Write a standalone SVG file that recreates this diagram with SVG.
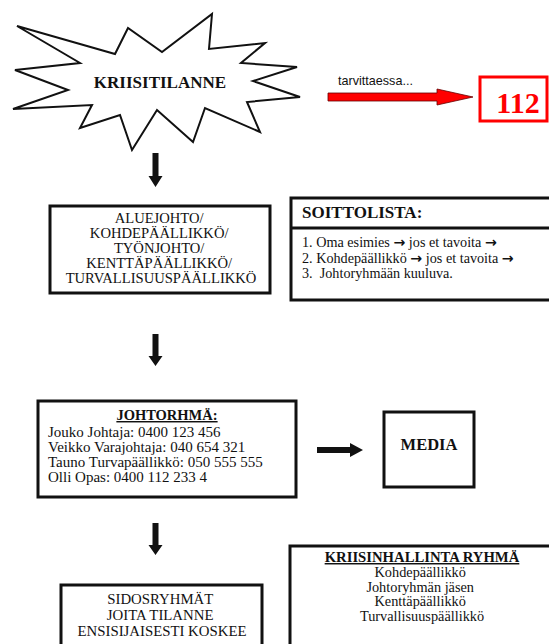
<svg xmlns="http://www.w3.org/2000/svg" width="549" height="644" viewBox="0 0 549 644">
<style>
.t{font-family:"Liberation Serif","Times New Roman",serif;fill:#111;}
.b{font-weight:bold;}
.ar{font-family:"DejaVu Sans",sans-serif;font-weight:bold;}
.box{fill:#fff;stroke:#111;stroke-width:3;}
.arr{fill:#111;}
</style>
<rect width="549" height="644" fill="#fff"/>
<g id="kriisitilanne">
<polygon points="17,26 115,54 128,28 162,52 212,14 209,49 265,43 241,63 297,67 253,81 300,97 247,102 260,132 205,108 193,142 157,110 132,150 120,115 80,128 92,105 13,109 68,90 15,70 80,63" fill="#fff" stroke="#111" stroke-width="2" stroke-linejoin="miter"/>
<text class="t b" x="160" y="88" font-size="17" text-anchor="middle">KRIISITILANNE</text>
</g>
<g id="hatanumero">
<rect x="480" y="77" width="67" height="44" fill="#fff" stroke="#f00" stroke-width="3"/>
<text x="518" y="113" font-family="Liberation Serif, serif" font-weight="bold" font-size="30" fill="#f00" text-anchor="middle">112</text>
</g>
<g id="johto">
<rect class="box" x="50" y="206" width="220" height="87"/>
<text class="t" font-size="14.6" text-anchor="middle">
<tspan x="161" y="223">ALUEJOHTO/</tspan>
<tspan x="161" y="238">KOHDEPÄÄLLIKKÖ/</tspan>
<tspan x="161" y="253">TYÖNJOHTO/</tspan>
<tspan x="161" y="268">KENTTÄPÄÄLLIKKÖ/</tspan>
<tspan x="161" y="283">TURVALLISUUSPÄÄLLIKKÖ</tspan>
</text>
</g>
<g id="soittolista">
<rect class="box" x="291" y="198" width="262" height="102"/>
<line x1="291" y1="228" x2="553" y2="228" stroke="#111" stroke-width="3"/>
<text class="t b" x="302" y="218" font-size="17">SOITTOLISTA:</text>
<text class="t" font-size="14.2">
<tspan x="302" y="247">1. Oma esimies <tspan class="ar">→</tspan> jos et tavoita <tspan class="ar">→</tspan></tspan>
<tspan x="302" y="263">2. Kohdepäällikkö <tspan class="ar">→</tspan> jos et tavoita <tspan class="ar">→</tspan></tspan>
<tspan x="302" y="278">3.&#160; Johtoryhmään kuuluva.</tspan>
</text>
</g>
<g id="johtoryhma">
<rect class="box" x="38" y="401" width="258" height="96"/>
<text class="t b" x="167" y="420" font-size="14.5" text-anchor="middle" text-decoration="underline">JOHTORHMÄ:</text>
<text class="t" font-size="15">
<tspan x="48" y="437">Jouko Johtaja: 0400 123 456</tspan>
<tspan x="48" y="452">Veikko Varajohtaja: 040 654 321</tspan>
<tspan x="48" y="467">Tauno Turvapäällikkö: 050 555 555</tspan>
<tspan x="48" y="482">Olli Opas: 0400 112 233 4</tspan>
</text>
</g>
<g id="media">
<rect class="box" x="384" y="412" width="90" height="75"/>
<text class="t b" x="429" y="450" font-size="16.5" text-anchor="middle">MEDIA</text>
</g>
<g id="sidosryhmat">
<rect class="box" x="61" y="585" width="201" height="70"/>
<text class="t" font-size="14.8" text-anchor="middle">
<tspan x="162" y="604">SIDOSRYHMÄT</tspan>
<tspan x="162" y="620">JOITA TILANNE</tspan>
<tspan x="162" y="636">ENSISIJAISESTI KOSKEE</tspan>
</text>
</g>
<g id="kriisinhallinta">
<rect class="box" x="290" y="546" width="263" height="110"/>
<text class="t b" x="422" y="562" font-size="14.7" text-anchor="middle" text-decoration="underline">KRIISINHALLINTA RYHMÄ</text>
<text class="t" font-size="14.3" text-anchor="middle">
<tspan x="422" y="577">Kohdepäällikkö</tspan>
<tspan x="422" y="591.5">Johtoryhmän jäsen</tspan>
<tspan x="422" y="606">Kenttäpäällikkö</tspan>
<tspan x="422" y="620.5">Turvallisuuspäällikkö</tspan>
</text>
</g>
<g id="connectors">
<text x="338" y="85" font-family="Liberation Sans, Arial, sans-serif" font-size="12.6" fill="#111">tarvittaessa...</text>
<polygon points="328,93 437,93 437,89 473,97 437,105 437,101 328,101" fill="#f00" stroke="#600" stroke-width="0.8"/>
<polygon class="arr" points="152.5,153 158.5,153 158.5,176 162.5,176 155.5,187 148.5,176 152.5,176"/>
<polygon class="arr" points="152.5,334 158.5,334 158.5,356 162.5,356 155.5,366 148.5,356 152.5,356"/>
<polygon class="arr" points="152.5,523 158.5,523 158.5,545 162.5,545 155.5,555 148.5,545 152.5,545"/>
<polygon class="arr" points="317,447 350,447 350,443 363,450 350,457 350,453 317,453"/>
</g>
</svg>
